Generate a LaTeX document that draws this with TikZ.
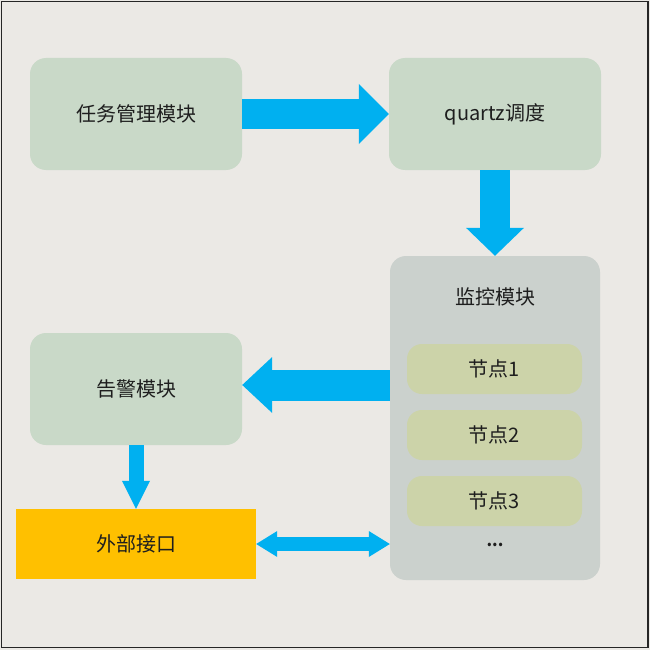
\documentclass[tikz,border=0pt]{standalone}
\usepackage{fontspec}
\setmainfont{Noto Sans CJK SC}
\usetikzlibrary{arrows.meta}
\definecolor{bgcol}{RGB}{235,233,229}
\definecolor{boxcol}{RGB}{201,217,200}
\definecolor{panelcol}{RGB}{203,209,205}
\definecolor{nodecol}{RGB}{204,211,169}
\definecolor{extcol}{RGB}{255,192,0}
\definecolor{arrowcol}{RGB}{0,176,240}
\definecolor{textcol}{RGB}{30,30,30}
\begin{document}
\begin{tikzpicture}[x=1pt,y=-1pt,
    every node/.style={font=\fontsize{20}{24}\selectfont,text=textcol},
    main node/.style={fill=boxcol,rounded corners=16pt,minimum width=212pt,minimum height=112pt},
    sub node/.style={fill=nodecol,rounded corners=15pt,minimum width=175pt,minimum height=50pt}]
  \useasboundingbox (0,0) rectangle (650,650);
  \fill[bgcol] (0,0) rectangle (650,650);
  \draw[black!85,line width=1.4pt] (1.5,1.5) rectangle (648,647.5);
  \node[main node] (task) at (136,114) {任务管理模块};
  \node[main node] (quartz) at (495,114) {quartz调度};
  \node[fill=panelcol,rounded corners=16pt,minimum width=210pt,minimum height=324pt] (monitor) at (495,418) {};
  \node (title) at (495,297) {监控模块};
  \node[sub node] (n1) at (494.5,369) {节点1};
  \node[sub node] (n2) at (494.5,435) {节点2};
  \node[sub node] (n3) at (494.5,501) {节点3};
  \node[font=\fontsize{16}{20}\selectfont\bfseries] (dots) at (495,545) {...};
  \node[main node] (alarm) at (136,389) {告警模块};
  \node[fill=extcol,minimum width=240pt,minimum height=70pt] (ext) at (136,544) {外部接口};
  % arrows
  \draw[line width=30pt,arrowcol,-{Triangle[length=30pt,width=60pt,line width=0pt]}] (task.east) -- (quartz.west);
  \draw[line width=30pt,arrowcol,-{Triangle[length=28pt,width=58pt,line width=0pt]}] (quartz.south) -- (monitor.north);
  \draw[line width=31pt,arrowcol,-{Triangle[length=30pt,width=56pt,line width=0pt]}] (monitor.west |- 0,385) -- (alarm.east |- 0,385);
  \draw[line width=15pt,arrowcol,-{Triangle[length=28pt,width=28pt,line width=0pt]}] (alarm.south) -- (ext.north);
  \draw[line width=14pt,arrowcol,{Triangle[length=21pt,width=26pt,line width=0pt]}-{Triangle[length=21pt,width=26pt,line width=0pt]}] (ext.east) -- (monitor.west |- ext.east);
\end{tikzpicture}
\end{document}
